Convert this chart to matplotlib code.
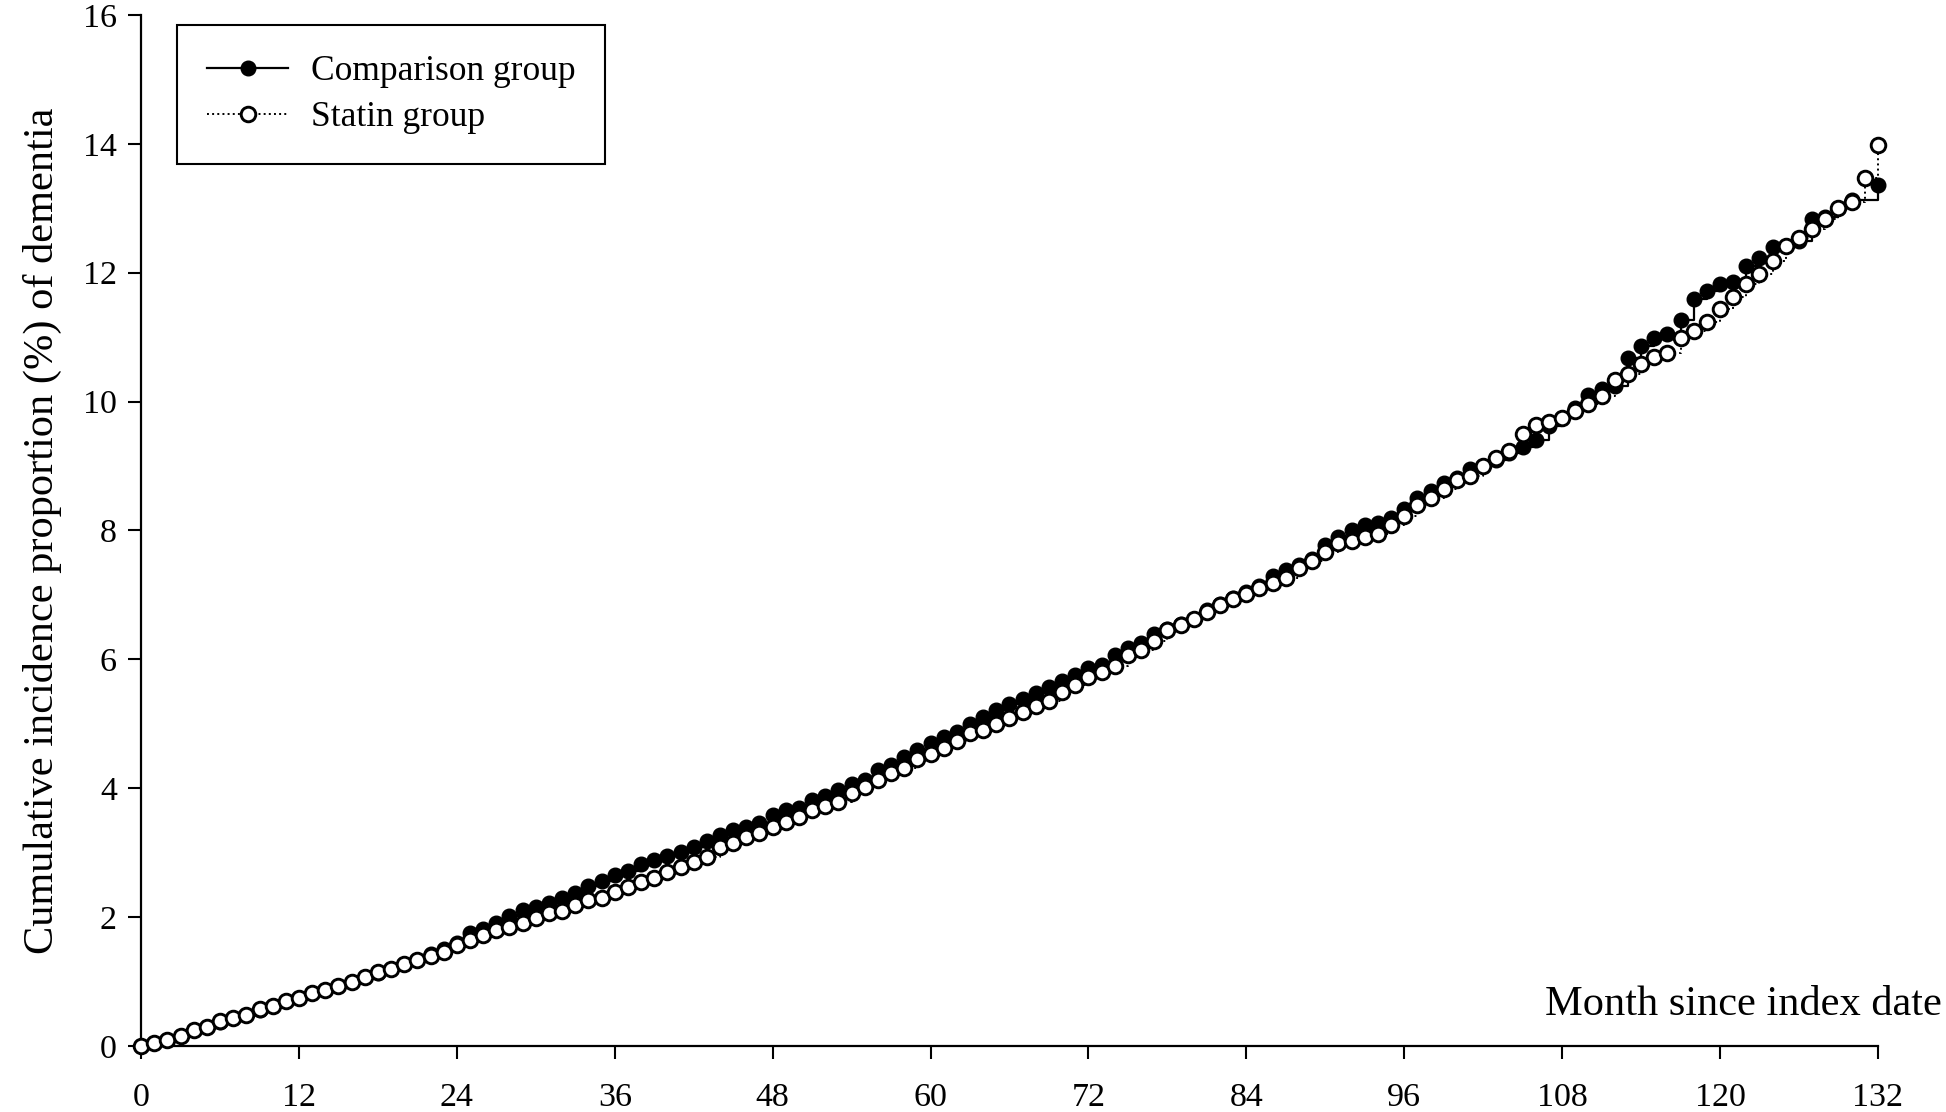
import numpy as np
import matplotlib
matplotlib.use("Agg")
import matplotlib.pyplot as plt

# months since index date
months = np.arange(0, 133)

comparison_group = [
    0.00, 0.04, 0.10, 0.16, 0.24, 0.30, 0.37, 0.43, 0.48, 0.56,
    0.62, 0.70, 0.75, 0.82, 0.87, 0.93, 1.00, 1.07, 1.13, 1.20,
    1.27, 1.34, 1.42, 1.50, 1.60, 1.75, 1.82, 1.91, 2.02, 2.11,
    2.15, 2.22, 2.29, 2.37, 2.48, 2.56, 2.65, 2.72, 2.82, 2.88,
    2.95, 3.01, 3.08, 3.18, 3.27, 3.35, 3.40, 3.46, 3.58, 3.66,
    3.70, 3.81, 3.88, 3.97, 4.07, 4.12, 4.28, 4.36, 4.49, 4.59,
    4.70, 4.80, 4.87, 5.00, 5.10, 5.21, 5.30, 5.39, 5.47, 5.57,
    5.67, 5.75, 5.86, 5.92, 6.06, 6.17, 6.26, 6.40, 6.47, 6.55,
    6.63, 6.76, 6.86, 6.95, 7.04, 7.14, 7.30, 7.38, 7.46, 7.55,
    7.77, 7.90, 8.00, 8.08, 8.12, 8.20, 8.34, 8.51, 8.62, 8.74,
    8.82, 8.96, 9.00, 9.10, 9.20, 9.29, 9.40, 9.62, 9.75, 9.90,
    10.10, 10.20, 10.25, 10.68, 10.87, 10.98, 11.05, 11.26, 11.60, 11.71,
    11.83, 11.85, 12.11, 12.23, 12.40, 12.42, 12.50, 12.84, 12.86, 13.00,
    13.13, 13.13, 13.36,
]

statin_group = [
    0.00, 0.04, 0.10, 0.16, 0.25, 0.30, 0.38, 0.44, 0.48, 0.57,
    0.62, 0.70, 0.74, 0.82, 0.87, 0.93, 1.00, 1.07, 1.14, 1.20,
    1.27, 1.33, 1.39, 1.46, 1.57, 1.64, 1.72, 1.80, 1.85, 1.91,
    1.98, 2.06, 2.10, 2.19, 2.27, 2.30, 2.39, 2.46, 2.55, 2.60,
    2.70, 2.78, 2.86, 2.93, 3.08, 3.15, 3.24, 3.30, 3.40, 3.47,
    3.55, 3.66, 3.72, 3.78, 3.92, 4.02, 4.12, 4.23, 4.32, 4.45,
    4.53, 4.62, 4.74, 4.85, 4.91, 5.00, 5.09, 5.18, 5.27, 5.35,
    5.49, 5.60, 5.73, 5.80, 5.90, 6.06, 6.15, 6.29, 6.45, 6.53,
    6.62, 6.74, 6.85, 6.93, 7.02, 7.10, 7.19, 7.27, 7.41, 7.52,
    7.66, 7.80, 7.84, 7.90, 7.95, 8.08, 8.22, 8.40, 8.51, 8.65,
    8.78, 8.85, 9.00, 9.12, 9.24, 9.50, 9.63, 9.68, 9.74, 9.86,
    9.97, 10.08, 10.33, 10.43, 10.59, 10.70, 10.76, 10.98, 11.09, 11.24,
    11.44, 11.63, 11.83, 11.98, 12.19, 12.42, 12.54, 12.68, 12.84, 13.00,
    13.10, 13.47, 13.98,
]

x_ticks = [0, 12, 24, 36, 48, 60, 72, 84, 96, 108, 120, 132]
y_ticks = [0, 2, 4, 6, 8, 10, 12, 14, 16]

plt.rcParams['font.family'] = ['Liberation Serif', 'DejaVu Serif']

fig = plt.figure(figsize=(19.46, 11.12), dpi=100)
ax = fig.add_axes([0.0725, 0.0594, 0.8925, 0.9271])

# no marker drawn at month 131 for the comparison group
comp_marks = [i for i in range(len(months)) if i != 131]
ax.plot(months, comparison_group, drawstyle='steps-post', color='black',
        linewidth=1.6, marker='o', markersize=10.5, markerfacecolor='black',
        markeredgecolor='black', markevery=comp_marks, clip_on=False,
        label='Comparison group', zorder=3)
ax.plot(months, statin_group, drawstyle='steps-post', color='black',
        linewidth=1.4, linestyle=':', marker='o', markersize=10.5,
        markerfacecolor='white', markeredgecolor='black', markeredgewidth=2.1,
        clip_on=False, label='Statin group', zorder=4)

ax.set_xlim(0, 132)
ax.set_ylim(0, 16)
ax.set_xticks(x_ticks)
ax.set_yticks(y_ticks)

for side in ['top', 'right']:
    ax.spines[side].set_visible(False)
for side in ['left', 'bottom']:
    ax.spines[side].set_linewidth(1.6)

ax.tick_params(axis='both', direction='out', length=9.5, width=1.5,
               labelsize=24.5)
ax.tick_params(axis='x', pad=17)
ax.tick_params(axis='y', pad=8)

ax.set_ylabel('Cumulative incidence proportion (%) of dementia', fontsize=30.5,
              labelpad=15)
ax.text(1.037, 0.04, 'Month since index date', transform=ax.transAxes,
        ha='right', va='center', fontsize=30.5)

leg = ax.legend(loc='upper left', bbox_to_anchor=(0.0207, 0.99), fontsize=25.5,
                frameon=True, fancybox=False, framealpha=1, edgecolor='black',
                handlelength=2.3, borderpad=0.84, labelspacing=0.37,
                handletextpad=0.63, borderaxespad=0)
leg.get_frame().set_linewidth(1.5)

fig.savefig('out.png', dpi=100)
